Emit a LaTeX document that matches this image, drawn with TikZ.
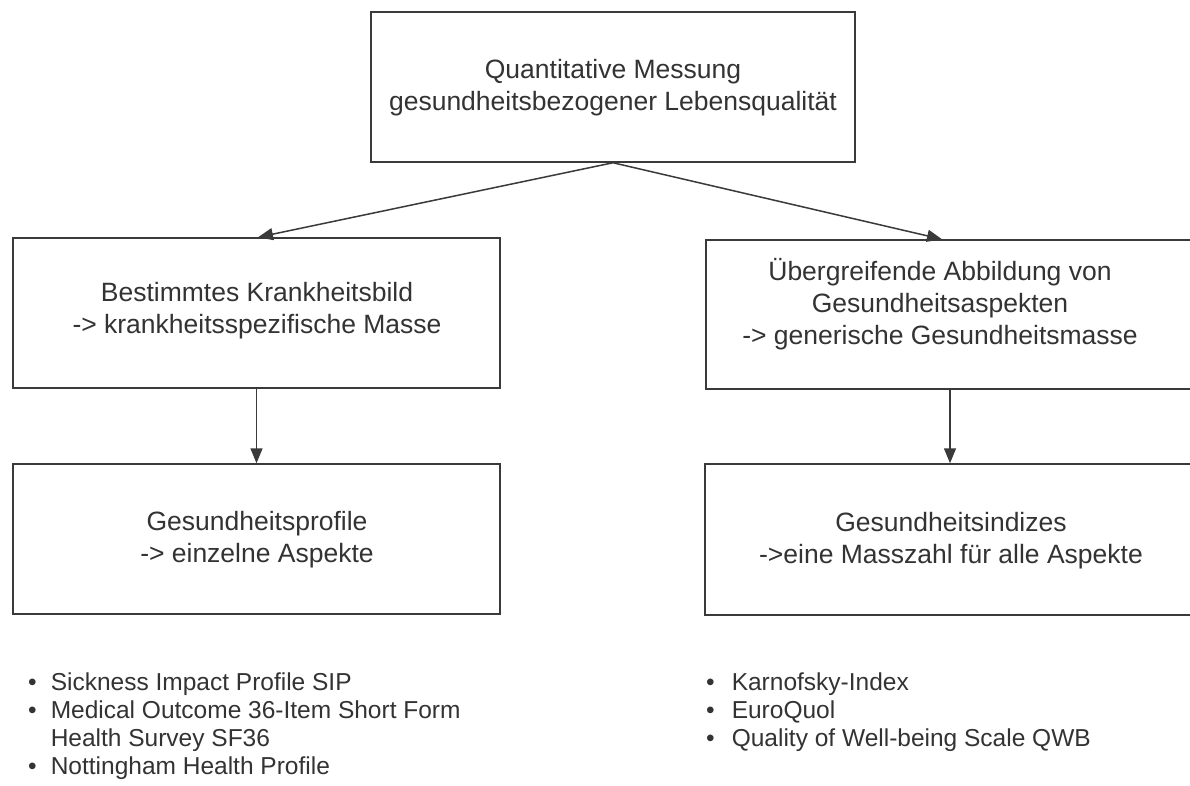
\documentclass[tikz,border=0pt]{standalone}
\usepackage{fontspec}
\setmainfont{Liberation Sans}
\usetikzlibrary{arrows.meta}
\definecolor{ink}{HTML}{333333}
\definecolor{rule}{HTML}{3A3A3A}
\begin{document}
\begin{tikzpicture}[x=1pt,y=-1pt,
  frame/.style={draw=rule, line width=1.5pt, inner sep=0pt, minimum height=150pt},
  boxtext/.style={text=ink, align=center, inner sep=0pt,
    font=\fontsize{26.5}{32}\selectfont},
  listtext/.style={text=ink, anchor=north west, inner sep=0pt,
    font=\fontsize{24.5}{28}\selectfont},
  link/.style={draw=rule, line width=1.5pt, -{Triangle[length=15pt,width=12pt]}}]

\path[use as bounding box, clip] (0,0) rectangle (1190,786);
\fill[white] (0,0) rectangle (1190,786);

% frames
\node[frame, minimum width=484pt] (top)  at (613,87)    {};
\node[frame, minimum width=487pt] (lmid) at (256.5,313) {};
\node[frame, minimum width=488pt, minimum height=149pt] (rmid) at (950,314.5) {};
\node[frame, minimum width=487pt] (lbot) at (256.5,539) {};
\node[frame, minimum width=490pt, minimum height=151pt] (rbot) at (950,539.5) {};

% box captions
\node[boxtext] (ttop)  at (613,88)  {Quantitative Messung\\gesundheitsbezogener Lebensqualität};
\node[boxtext] (tlmid) at (257,311) {Bestimmtes Krankheitsbild\\-> krankheitsspezifische Masse};
\node[boxtext] (trmid) at (940,304) {Übergreifende Abbildung von\\Gesundheitsaspekten\\-> generische Gesundheitsmasse};
\node[boxtext] (tlbot) at (257,540) {Gesundheitsprofile\\-> einzelne Aspekte};
\node[boxtext] (trbot) at (951,541) {Gesundheitsindizes\\->eine Masszahl für alle Aspekte};

% connectors
\draw[link] (top.south) -- ([xshift=1.5pt]lmid.north);
\draw[link] (top.south) -- ([xshift=-8pt]rmid.north);
\draw[link] (lmid.south) -- (lmid.south |- lbot.north);
\draw[link] (rmid.south) -- (rmid.south |- rbot.north);

% instrument lists
\node[listtext] (llist) at (28,671) {%
  \begin{tabular}{@{}l@{\hspace{14pt}}l@{}}
  \textbullet & Sickness Impact Profile SIP\\
  \textbullet & Medical Outcome 36-Item Short Form\\
              & Health Survey SF36\\
  \textbullet & Nottingham Health Profile
  \end{tabular}};
\node[listtext] (rlist) at (706,671) {%
  \begin{tabular}{@{}l@{\hspace{17pt}}l@{}}
  \textbullet & Karnofsky-Index\\
  \textbullet & EuroQuol\\
  \textbullet & Quality of Well-being Scale QWB
  \end{tabular}};
\end{tikzpicture}
\end{document}
